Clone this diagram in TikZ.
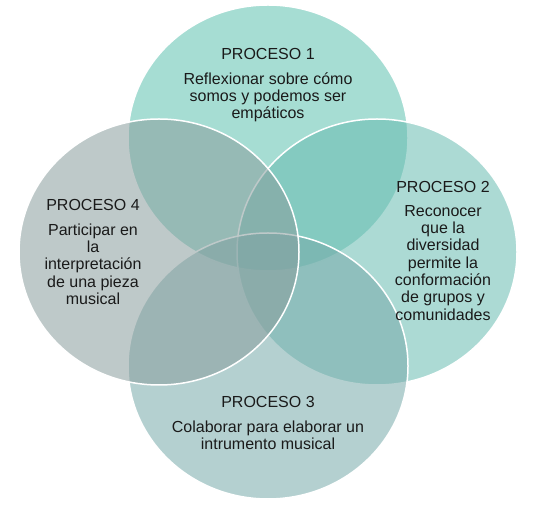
\documentclass[tikz,border=0pt]{standalone}
\usepackage{fontspec}
\setmainfont{Liberation Sans}
\usetikzlibrary{positioning, shapes.geometric}
\definecolor{procone}{HTML}{5DC1AF}
\definecolor{proctwo}{HTML}{68BCB1}
\definecolor{procthree}{HTML}{77AAAA}
\definecolor{procfour}{HTML}{899D9D}
\definecolor{proctext}{HTML}{1A1A1A}
\tikzset{
    proc/.style={
        ellipse, draw=white, line width=1.5pt,
        fill=#1, fill opacity=0.55,
        minimum width=280pt, minimum height=266pt,
        inner sep=0pt,
    },
    proctitle/.style={
        font=\fontsize{16}{17.3}\selectfont,
        text=proctext, inner sep=0pt, anchor=base,
    },
    procdesc/.style={
        font=\fontsize{16}{17.3}\selectfont,
        text=proctext, inner sep=0pt, align=center,
    },
}

\begin{document}
\begin{tikzpicture}[x=1pt, y=1pt]
\useasboundingbox (0,0) rectangle (548,511);

% =============================================
% Circles (drawn top, right, bottom, left)
% =============================================
\node[proc=procone]   (p1) at (268,373) {};
\node[proc=proctwo]   (p2) at (377,259) {};
\node[proc=procthree] (p3) at (268,145) {};
\node[proc=procfour]  (p4) at (159,259) {};

% =============================================
% Texts
% =============================================
\node[proctitle] (t1) at (268,451.3) {PROCESO 1};
\node[procdesc, below=12.3pt of t1] (d1) {Reflexionar sobre cómo\\somos y podemos ser\\empáticos};

\node[proctitle] (t2) at (443,318.5) {PROCESO 2};
\node[procdesc, below=12.3pt of t2] (d2) {Reconocer\\que la\\diversidad\\permite la\\conformación\\de grupos y\\comunidades};

\node[proctitle] (t3) at (268,103.3) {PROCESO 3};
\node[procdesc, below=12.3pt of t3] (d3) {Colaborar para elaborar un\\intrumento musical};

\node[proctitle] (t4) at (93,300.3) {PROCESO 4};
\node[procdesc, below=12.3pt of t4] (d4) {Participar en\\la\\interpretación\\de una pieza\\musical};

\end{tikzpicture}
\end{document}
